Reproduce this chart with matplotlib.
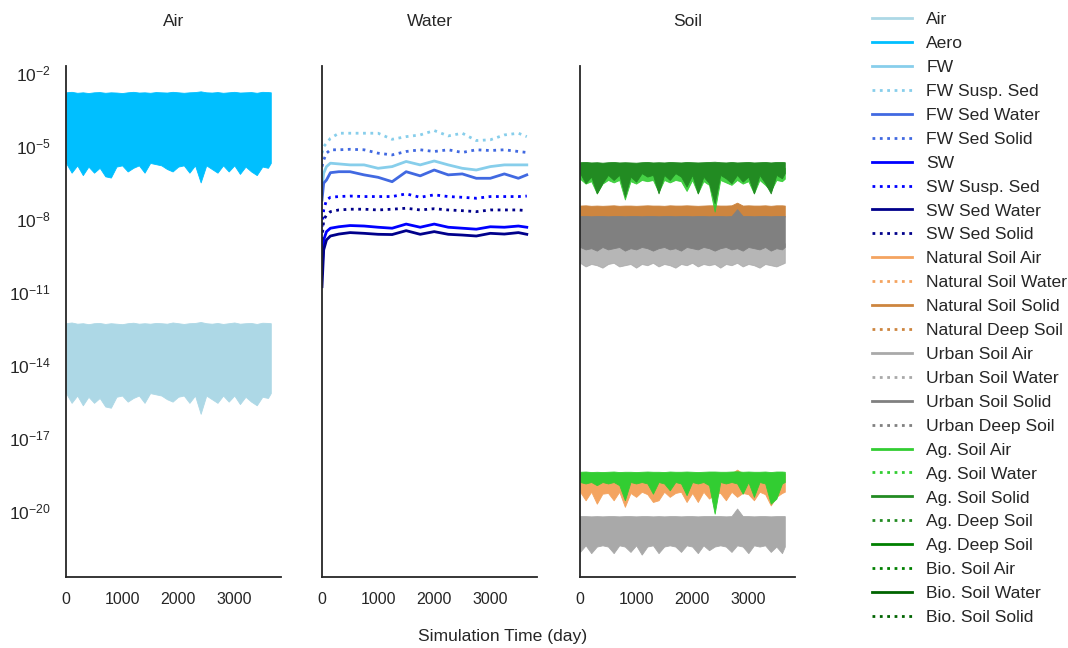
import matplotlib
matplotlib.use('Agg')
import matplotlib.pyplot as plt
from matplotlib.lines import Line2D

# all concentrations are stored as log10 values

# --- dense (noisy) series: lower / upper envelopes every 100 days ---
band_days = [0, 100, 200, 300, 400, 500, 600, 700, 800, 900, 1000, 1100,
             1200, 1300, 1400, 1500, 1600, 1700, 1800, 1900, 2000, 2100,
             2200, 2300, 2400, 2500, 2600, 2700, 2800, 2900, 3000, 3100,
             3200, 3300, 3400, 3500, 3600, 3650]

aero_hi = [-2.80, -2.78, -2.82, -2.80, -2.83, -2.80, -2.79, -2.82, -2.80, -2.81,
           -2.83, -2.80, -2.78, -2.81, -2.80, -2.82, -2.79, -2.80, -2.81, -2.78,
           -2.80, -2.82, -2.80, -2.79, -2.76, -2.80, -2.81, -2.79, -2.82, -2.80,
           -2.78, -2.81, -2.80, -2.79, -2.82, -2.78, -2.79, -2.80]
aero_lo = [-5.70, -6.10, -5.80, -6.20, -5.85, -6.10, -5.90, -6.25, -6.30, -5.85,
           -5.80, -6.05, -5.90, -5.80, -6.10, -5.70, -5.75, -5.80, -5.95, -6.05,
           -5.85, -5.80, -6.10, -5.80, -6.50, -5.80, -5.95, -6.10, -5.80, -6.05,
           -5.80, -6.15, -5.85, -6.05, -6.20, -5.85, -5.90, -5.70]
air_hi = [-12.28, -12.25, -12.30, -12.28, -12.32, -12.28, -12.27, -12.31, -12.28, -12.30,
          -12.32, -12.28, -12.26, -12.30, -12.28, -12.30, -12.27, -12.28, -12.30, -12.25,
          -12.28, -12.31, -12.28, -12.27, -12.23, -12.28, -12.30, -12.27, -12.31, -12.28,
          -12.25, -12.30, -12.28, -12.27, -12.31, -12.26, -12.27, -12.28]
air_lo = [-15.15, -15.55, -15.25, -15.65, -15.30, -15.55, -15.35, -15.70, -15.75, -15.30,
          -15.25, -15.50, -15.35, -15.25, -15.55, -15.15, -15.20, -15.25, -15.40, -15.50,
          -15.30, -15.25, -15.55, -15.25, -16.00, -15.25, -15.40, -15.55, -15.25, -15.50,
          -15.25, -15.60, -15.30, -15.50, -15.65, -15.30, -15.35, -15.15]

ag_solid_hi = [-5.67, -5.66, -5.68, -5.67, -5.69, -5.67, -5.66, -5.68, -5.67, -5.68,
               -5.69, -5.67, -5.66, -5.68, -5.67, -5.68, -5.66, -5.67, -5.68, -5.66,
               -5.67, -5.68, -5.67, -5.66, -5.65, -5.67, -5.68, -5.66, -5.68, -5.67,
               -5.66, -5.68, -5.67, -5.66, -5.68, -5.66, -5.66, -5.67]
ag_solid_lo = [-6.12, -6.53, -6.26, -6.95, -6.53, -6.19, -6.40, -6.19, -7.08, -6.26,
               -6.47, -6.12, -6.26, -6.19, -6.95, -6.19, -6.40, -6.12, -6.26, -6.67,
               -6.19, -6.95, -6.26, -6.53, -7.36, -6.19, -6.33, -6.53, -6.19, -6.47,
               -6.26, -6.95, -6.19, -6.53, -6.95, -6.19, -6.33, -6.12]
ag_water_hi = [-5.90, -5.90, -5.92, -5.90, -5.91, -5.90, -5.90, -5.92, -5.90, -5.91,
               -5.92, -5.90, -5.90, -5.91, -5.90, -5.91, -5.90, -5.90, -5.91, -5.90,
               -5.90, -5.92, -5.90, -5.90, -5.89, -5.90, -5.91, -5.90, -5.92, -5.90,
               -5.90, -5.91, -5.90, -5.90, -5.92, -5.90, -5.90, -5.90]
ag_water_lo = [-6.35, -6.55, -6.45, -6.95, -6.55, -6.40, -6.50, -6.40, -7.20, -6.45,
               -6.55, -6.40, -6.45, -6.40, -6.90, -6.40, -6.50, -6.40, -6.45, -6.85,
               -6.40, -6.95, -6.45, -6.60, -7.70, -6.40, -6.50, -6.60, -6.40, -6.55,
               -6.45, -6.95, -6.40, -6.60, -6.85, -6.40, -6.45, -6.35]
nat_solid_hi = [-7.45, -7.44, -7.46, -7.45, -7.46, -7.45, -7.44, -7.46, -7.45, -7.45,
                -7.46, -7.45, -7.44, -7.45, -7.45, -7.46, -7.44, -7.45, -7.45, -7.44,
                -7.45, -7.46, -7.45, -7.44, -7.44, -7.45, -7.45, -7.44, -7.33, -7.45,
                -7.44, -7.45, -7.45, -7.44, -7.46, -7.44, -7.44, -7.45]
nat_solid_lo = [-7.90, -7.90, -7.91, -7.90, -7.90, -7.91, -7.90, -7.90, -7.91, -7.90,
                -7.90, -7.91, -7.90, -7.90, -7.91, -7.90, -7.90, -7.91, -7.90, -7.90,
                -7.91, -7.90, -7.90, -7.91, -7.90, -7.90, -7.91, -7.90, -7.90, -7.91,
                -7.90, -7.90, -7.91, -7.90, -7.90, -7.91, -7.90, -7.90]
urb_solid_hi = [-7.88, -7.88, -7.89, -7.88, -7.88, -7.89, -7.88, -7.88, -7.89, -7.88,
                -7.88, -7.89, -7.88, -7.88, -7.89, -7.88, -7.88, -7.89, -7.88, -7.88,
                -7.89, -7.88, -7.88, -7.89, -7.88, -7.88, -7.89, -7.88, -7.60, -7.88,
                -7.88, -7.89, -7.88, -7.88, -7.89, -7.88, -7.88, -7.88]
urb_solid_lo = [-9.15, -9.25, -9.20, -9.30, -9.15, -9.25, -9.20, -9.15, -9.30, -9.20,
                -9.25, -9.15, -9.20, -9.30, -9.20, -9.15, -9.25, -9.20, -9.30, -9.15,
                -9.20, -9.25, -9.15, -9.20, -9.30, -9.20, -9.15, -9.25, -9.20, -9.30,
                -9.15, -9.20, -9.25, -9.15, -9.30, -9.20, -9.25, -9.15]
urb_water_hi = [-9.00, -9.00, -9.02, -9.00, -9.01, -9.00, -9.00, -9.02, -9.00, -9.01,
                -9.02, -9.00, -9.00, -9.01, -9.00, -9.01, -9.00, -9.00, -9.01, -9.00,
                -9.00, -9.02, -9.00, -9.00, -8.99, -9.00, -9.01, -9.00, -9.02, -9.00,
                -9.00, -9.01, -9.00, -9.00, -9.02, -9.00, -9.00, -9.00]
urb_water_lo = [-9.80, -9.95, -9.85, -9.90, -10.00, -9.85, -9.80, -9.95, -9.90, -9.85,
                -10.00, -9.85, -9.90, -9.80, -9.95, -9.85, -9.90, -10.00, -9.85, -9.90,
                -9.80, -9.95, -9.85, -9.90, -9.85, -10.00, -9.85, -9.90, -9.80, -9.95,
                -9.85, -9.90, -10.00, -9.85, -9.90, -9.95, -9.85, -9.80]
ag_air_hi = [-18.38, -18.37, -18.39, -18.38, -18.39, -18.38, -18.37, -18.39, -18.38, -18.38,
             -18.39, -18.38, -18.37, -18.38, -18.38, -18.39, -18.37, -18.38, -18.38, -18.37,
             -18.38, -18.39, -18.38, -18.37, -18.37, -18.38, -18.38, -18.37, -18.36, -18.38,
             -18.37, -18.38, -18.38, -18.37, -18.39, -18.37, -18.37, -18.38]
ag_air_lo = [-18.80, -18.86, -18.80, -18.93, -18.80, -18.86, -18.80, -18.93, -19.55, -18.80,
             -18.86, -18.80, -18.86, -19.28, -18.80, -18.86, -19.14, -18.80, -18.86, -19.34,
             -18.80, -18.86, -18.80, -18.93, -20.10, -18.80, -18.86, -18.80, -18.86, -19.28,
             -18.80, -19.41, -18.80, -18.86, -19.69, -19.48, -18.86, -18.80]
nat_air_hi = [-18.45, -18.45, -18.46, -18.45, -18.46, -18.45, -18.45, -18.46, -18.45, -18.45,
              -18.46, -18.45, -18.45, -18.46, -18.45, -18.46, -18.45, -18.45, -18.46, -18.45,
              -18.45, -18.46, -18.45, -18.45, -18.45, -18.45, -18.46, -18.45, -18.29, -18.45,
              -18.45, -18.46, -18.45, -18.45, -18.46, -18.45, -18.45, -18.45]
nat_air_lo = [-19.20, -19.55, -19.20, -19.69, -19.28, -19.25, -19.55, -19.20, -19.82, -19.25,
              -19.41, -19.20, -19.30, -19.62, -19.55, -19.20, -19.41, -19.25, -19.20, -19.62,
              -19.25, -19.62, -19.20, -19.48, -19.30, -19.25, -19.55, -19.20, -19.41, -19.25,
              -19.30, -19.55, -19.20, -19.30, -19.76, -19.41, -19.25, -19.20]
urb_air_hi = [-20.20, -20.20, -20.21, -20.20, -20.21, -20.20, -20.20, -20.21, -20.20, -20.20,
              -20.21, -20.20, -20.20, -20.21, -20.20, -20.21, -20.20, -20.20, -20.21, -20.20,
              -20.20, -20.21, -20.20, -20.20, -20.20, -20.20, -20.21, -20.20, -19.89, -20.20,
              -20.20, -20.21, -20.20, -20.20, -20.21, -20.20, -20.20, -20.20]
urb_air_lo = [-21.67, -21.40, -21.72, -21.45, -21.40, -21.45, -21.72, -21.40, -21.45, -21.67,
              -21.40, -21.78, -21.45, -21.40, -21.72, -21.45, -21.40, -21.45, -21.67, -21.40,
              -21.45, -21.72, -21.40, -21.60, -21.45, -21.40, -21.45, -21.67, -21.40, -21.45,
              -21.72, -21.40, -21.45, -21.40, -21.67, -21.45, -21.72, -21.45]

# --- water compartments: smoother single lines ---
water_days = [0, 30, 80, 150, 300, 500, 750, 1000, 1250, 1500, 1750, 2000,
              2250, 2500, 2750, 3000, 3250, 3500, 3650]
fw = [-6.67, -6.12, -5.85, -5.71, -5.74, -5.78, -5.78, -5.92, -5.85, -5.64,
      -5.78, -5.62, -5.78, -5.92, -5.99, -5.85, -5.78, -5.78, -5.78]
fw_susp = [-5.30, -5.03, -4.89, -4.69, -4.48, -4.48, -4.48, -4.48, -4.73, -4.62,
           -4.55, -4.37, -4.59, -4.48, -4.78, -4.75, -4.55, -4.48, -4.62]
fw_sed_water = [-7.22, -6.53, -6.40, -6.10, -6.06, -6.06, -6.19, -6.29, -6.47, -6.06,
                -6.23, -5.99, -6.19, -6.15, -6.33, -6.33, -6.15, -6.33, -6.19]
fw_sed_solid = [-5.85, -5.58, -5.30, -5.16, -5.16, -5.14, -5.16, -5.30, -5.37, -5.23,
                -5.16, -5.23, -5.16, -5.27, -5.16, -5.19, -5.16, -5.23, -5.27]
sw = [-10.23, -8.86, -8.52, -8.38, -8.32, -8.27, -8.29, -8.34, -8.38, -8.21,
      -8.34, -8.21, -8.34, -8.38, -8.42, -8.32, -8.34, -8.29, -8.34]
sw_susp = [-8.32, -7.63, -7.22, -7.11, -7.08, -7.06, -7.08, -7.08, -7.08, -6.97,
           -7.11, -7.01, -7.08, -7.11, -7.15, -7.08, -7.08, -7.08, -7.06]
sw_sed_water = [-10.78, -9.27, -8.86, -8.70, -8.62, -8.56, -8.59, -8.63, -8.64, -8.48,
                -8.63, -8.52, -8.63, -8.66, -8.70, -8.59, -8.62, -8.56, -8.63]
sw_sed_solid = [-8.86, -8.04, -7.84, -7.70, -7.63, -7.60, -7.60, -7.63, -7.60, -7.56,
                -7.63, -7.58, -7.63, -7.66, -7.70, -7.63, -7.63, -7.63, -7.66]

# --- legend ---
legend_labels = ['Air', 'Aero', 'FW', 'FW Susp. Sed', 'FW Sed Water', 'FW Sed Solid',
                 'SW', 'SW Susp. Sed', 'SW Sed Water', 'SW Sed Solid',
                 'Natural Soil Air', 'Natural Soil Water', 'Natural Soil Solid',
                 'Natural Deep Soil', 'Urban Soil Air', 'Urban Soil Water',
                 'Urban Soil Solid', 'Urban Deep Soil', 'Ag. Soil Air',
                 'Ag. Soil Water', 'Ag. Soil Solid', 'Ag. Deep Soil', 'Ag. Deep Soil',
                 'Bio. Soil Air', 'Bio. Soil Water', 'Bio. Soil Solid']
legend_colors = ['lightblue', 'deepskyblue', 'skyblue', 'skyblue', 'royalblue',
                 'royalblue', 'blue', 'blue', 'darkblue', 'darkblue',
                 'sandybrown', 'sandybrown', 'peru', 'peru', 'darkgray', 'darkgray',
                 'gray', 'gray', 'limegreen', 'limegreen', 'forestgreen',
                 'forestgreen', 'green', 'green', 'darkgreen', 'darkgreen']
legend_styles = ['-', '-', '-', ':', '-', ':', '-', ':', '-', ':',
                 '-', ':', '-', ':', '-', ':', '-', ':', '-', ':', '-', ':',
                 '-', ':', '-', ':']

panel_titles = ['Air', 'Water', 'Soil']
y_tick_exps = [-20, -17, -14, -11, -8, -5, -2]

TEXT = '#262626'
plt.rcParams['font.family'] = ['Liberation Sans', 'DejaVu Sans']
plt.rcParams['text.color'] = TEXT
plt.rcParams['axes.labelcolor'] = TEXT
plt.rcParams['xtick.color'] = TEXT
plt.rcParams['ytick.color'] = TEXT
plt.rcParams['mathtext.default'] = 'regular'


def pw(v):
    return [10.0 ** e for e in v]


def band(ax, lo, hi, color, alpha=1.0):
    ax.fill_between(band_days, pw(lo), pw(hi), color=color, lw=0.6,
                    edgecolor=color, alpha=alpha)


fig = plt.figure(figsize=(10.68, 6.48), dpi=100)
W, H = 1068.0, 648.0
axes = []
for i, left in enumerate([66, 322, 580]):
    ax = fig.add_axes([left / W, (H - 577) / H, 215 / W, (577 - 66) / H])
    axes.append(ax)
ax_air, ax_water, ax_soil = axes

# Air
band(ax_air, air_lo, air_hi, 'lightblue')
band(ax_air, aero_lo, aero_hi, 'deepskyblue')

# Water
water_series = [(fw, 'skyblue', '-'), (fw_susp, 'skyblue', ':'),
                (fw_sed_water, 'royalblue', '-'), (fw_sed_solid, 'royalblue', ':'),
                (sw, 'blue', '-'), (sw_susp, 'blue', ':'),
                (sw_sed_water, 'darkblue', '-'), (sw_sed_solid, 'darkblue', ':')]
for vals, c, ls in water_series:
    ax_water.plot(water_days, pw(vals), color=c, ls=ls, lw=2.0)

# Soil
band(ax_soil, nat_air_lo, nat_air_hi, 'sandybrown')
band(ax_soil, nat_solid_lo, nat_solid_hi, 'peru')
band(ax_soil, urb_air_lo, urb_air_hi, 'darkgray')
band(ax_soil, urb_water_lo, urb_water_hi, 'darkgray', alpha=0.85)
band(ax_soil, urb_solid_lo, urb_solid_hi, 'gray')
band(ax_soil, ag_air_lo, ag_air_hi, 'limegreen')
band(ax_soil, ag_water_lo, ag_water_hi, 'limegreen', alpha=0.9)
band(ax_soil, ag_solid_lo, ag_solid_hi, 'forestgreen')

for i, ax in enumerate(axes):
    ax.set_yscale('log')
    ax.set_ylim(10 ** -22.7, 10 ** -1.72)
    ax.set_xlim(0, 3832)
    ax.set_xticks([0, 1000, 2000, 3000])
    ax.set_yticks(pw(y_tick_exps))
    ax.minorticks_off()
    ax.tick_params(length=0, labelsize=11.5, pad=11)
    for s in ['top', 'right']:
        ax.spines[s].set_visible(False)
    for s in ['left', 'bottom']:
        ax.spines[s].set_color(TEXT)
        ax.spines[s].set_linewidth(1.3)
    ax.set_title(panel_titles[i], fontsize=12.6, color=TEXT, pad=29)
    if i > 0:
        ax.tick_params(labelleft=False)
ax_air.tick_params(axis='y', labelsize=12.6)

fig.text(503 / W, 1 - 637 / H, 'Simulation Time (day)', ha='center',
         va='center', fontsize=12.6)

handles = [Line2D([], [], color=c, ls=ls, lw=2)
           for c, ls in zip(legend_colors, legend_styles)]
fig.legend(handles, legend_labels, loc='upper left',
           bbox_to_anchor=(872 / W, 1 - 12 / H), frameon=False,
           fontsize=12.6, handlelength=2.3, handletextpad=0.8,
           labelspacing=0.495, borderpad=0, borderaxespad=0)

fig.savefig('out.png', dpi=100)
